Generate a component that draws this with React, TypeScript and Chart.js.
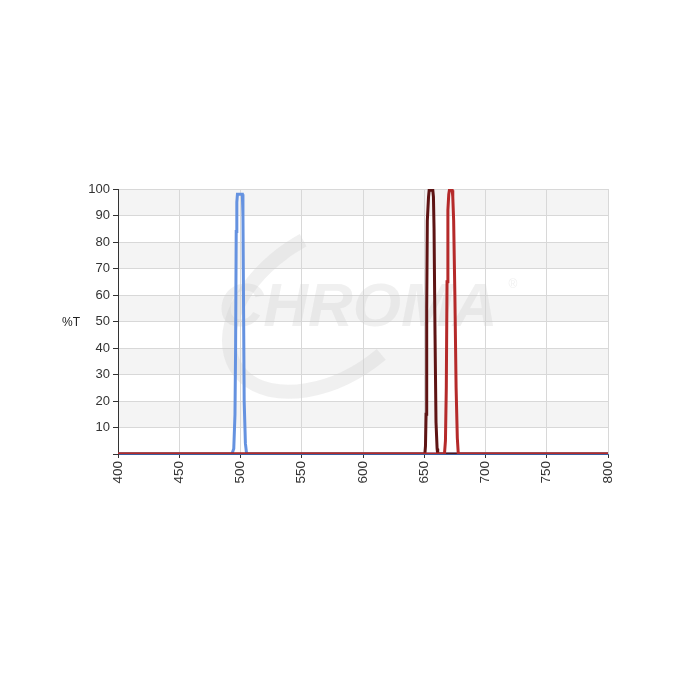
import React, { useEffect, useRef } from "react";
import { Chart, registerables } from "chart.js";

Chart.register(...registerables);

const xTicks = [400, 450, 500, 550, 600, 650, 700, 750, 800];
const yTicks = [10, 20, 30, 40, 50, 60, 70, 80, 90, 100];

const blueX = [400, 493, 494.5, 495.5, 496, 496.5, 497, 497.5, 501.5, 502, 502.5, 503, 504, 505, 800];
const blueY = [0, 0, 2, 15, 40, 84, 95, 98, 98, 90, 55, 20, 4, 0, 0];

const darkRedX = [400, 650.5, 651, 651.5, 652, 652.5, 653.5, 654, 657, 657.5, 658, 658.8, 659.6, 660.5, 661, 800];
const darkRedY = [0, 0, 3, 15, 55, 88, 97, 99.5, 99.5, 97, 85, 45, 12, 2, 0, 0];

const redX = [400, 666.5, 667.3, 668, 668.6, 669.3, 670, 670.5, 672.8, 673.3, 674, 675, 676, 677, 677.8, 800];
const redY = [0, 0, 5, 25, 65, 92, 98, 99.5, 99.5, 97, 88, 60, 25, 6, 0, 0];

const pts = (xs: number[], ys: number[]) => xs.map((x, i) => ({ x, y: ys[i] }));

const bgPlugin = {
  id: "bands",
  beforeDraw(chart: any) {
    const { ctx, chartArea, scales } = chart;
    const y = scales.y;
    ctx.save();
    ctx.fillStyle = "#ffffff";
    ctx.fillRect(chartArea.left, chartArea.top, chartArea.right - chartArea.left, chartArea.bottom - chartArea.top);
    ctx.fillStyle = "#f4f4f4";
    for (let v = 10; v < 100; v += 20) {
      const t = y.getPixelForValue(v + 10);
      const b = y.getPixelForValue(v);
      ctx.fillRect(chartArea.left, t, chartArea.right - chartArea.left, b - t);
    }
    ctx.restore();
  },
  beforeDatasetsDraw(chart: any) {
    const { ctx, chartArea } = chart;
    ctx.save();
    const cx = chartArea.left + 245;
    const cy = chartArea.top + 118;
    ctx.strokeStyle = "rgba(205,205,205,0.3)";
    ctx.lineWidth = 14;
    ctx.beginPath();
    ctx.ellipse(cx - 35, cy, 110, 70, -0.6, Math.PI * 0.45, Math.PI * 1.55);
    ctx.stroke();
    ctx.fillStyle = "rgba(205,205,205,0.3)";
    ctx.font = "italic bold 62px 'Liberation Sans', Arial, sans-serif";
    ctx.textAlign = "center";
    ctx.textBaseline = "middle";
    ctx.fillText("CHROMA", cx - 5, cy + 2);
    ctx.font = "12px 'Liberation Sans', Arial, sans-serif";
    ctx.fillText("®", cx + 150, cy - 22);
    ctx.restore();
  },
  afterDraw(chart: any) {
    const { ctx, chartArea } = chart;
    ctx.save();
    ctx.fillStyle = "#222";
    ctx.font = "12px 'Liberation Sans', Arial, sans-serif";
    ctx.textAlign = "left";
    ctx.textBaseline = "middle";
    ctx.fillText("%T", 62, (chartArea.top + chartArea.bottom) / 2 + 1);
    ctx.restore();
  },
};

export default function App() {
  const ref = useRef<HTMLCanvasElement>(null);
  useEffect(() => {
    if (!ref.current) return;
    const fontFamily = "'Liberation Sans', Arial, sans-serif";
    const chart = new Chart(ref.current, {
      type: "line",
      data: {
        datasets: [
          { data: pts(redX, redY), borderColor: "#b52a2a", borderWidth: 3, pointRadius: 0, tension: 0 },
          { data: pts(darkRedX, darkRedY), borderColor: "#5e1414", borderWidth: 3, pointRadius: 0, tension: 0 },
          { data: pts(blueX, blueY), borderColor: "#6592e0", borderWidth: 3, pointRadius: 0, tension: 0 },
        ],
      },
      options: {
        animation: false,
        responsive: false,
        events: [],
        layout: { padding: { left: 70, top: 189, right: 92, bottom: 196 } },
        plugins: { legend: { display: false }, tooltip: { enabled: false } },
        scales: {
          x: {
            type: "linear",
            min: 400,
            max: 800,
            afterBuildTicks: (s: any) => { s.ticks = xTicks.map((v) => ({ value: v })); },
            afterFit: (s: any) => { s.height = 50; },
            ticks: { minRotation: 90, maxRotation: 90, color: "#333", font: { family: fontFamily, size: 13.5 }, padding: 3 },
            grid: { color: "#d8d8d8", tickColor: "#333", tickLength: 4, drawOnChartArea: true },
            border: { color: "#3a5fa0", width: 1 },
          },
          y: {
            min: 0,
            max: 100,
            afterBuildTicks: (s: any) => { s.ticks = [0, ...yTicks].map((v) => ({ value: v })); },
            afterFit: (s: any) => { s.width = 48; },
            ticks: { color: "#333", font: { family: fontFamily, size: 13 }, padding: 3, callback: (v: any) => (v === 0 ? "" : String(v)) },
            grid: { color: "#d8d8d8", tickColor: "#333", tickLength: 5 },
            border: { color: "#333", width: 1 },
          },
        },
      },
      plugins: [bgPlugin],
    });
    return () => chart.destroy();
  }, []);
  return (
    <div style={{ position: "fixed", left: 0, top: 0, width: 700, height: 700, background: "#fff" }}>
      <canvas ref={ref} width={700} height={700} style={{ display: "block" }} />
    </div>
  );
}
